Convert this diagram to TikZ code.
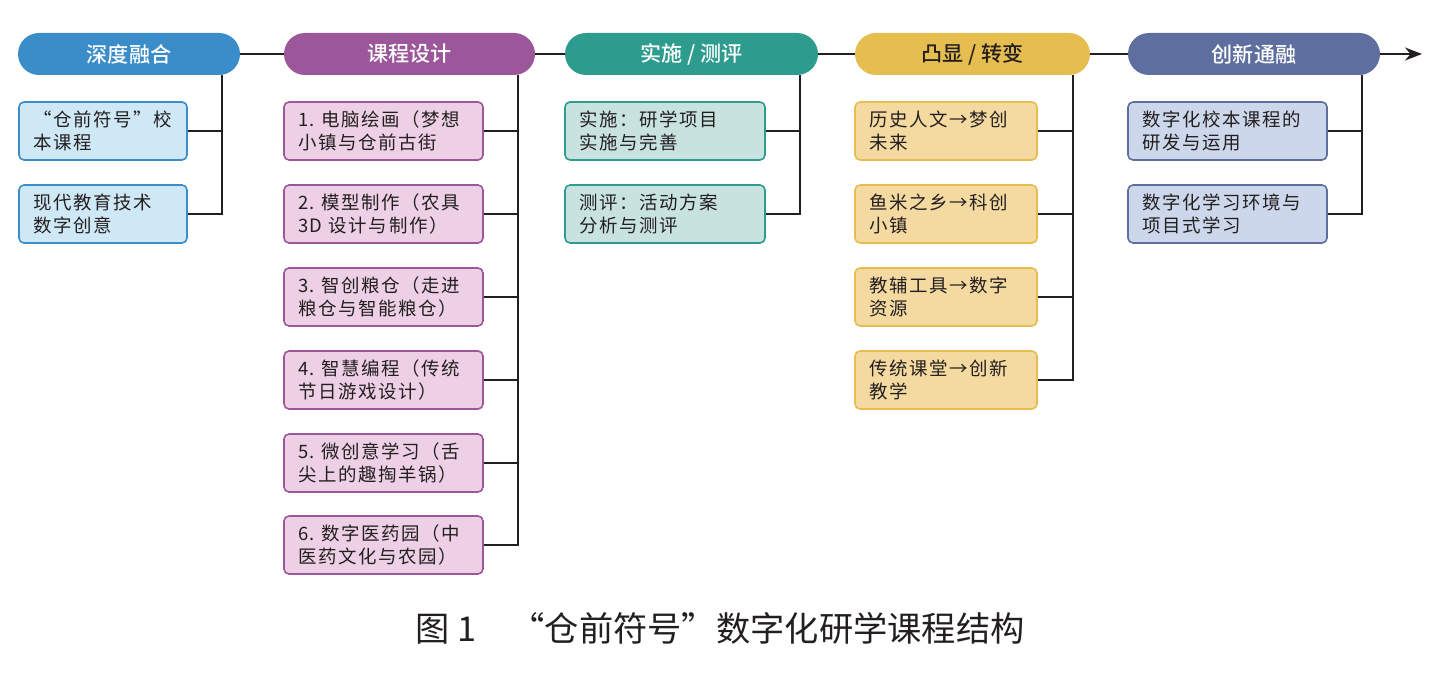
\documentclass[tikz,border=0pt]{standalone}
\usepackage{fontspec}
\setmainfont{Noto Sans CJK SC}
\newfontfamily\itemfont[LetterSpace=9]{Noto Sans CJK SC}
\newfontfamily\stagefont{Noto Sans CJK SC Medium}
\usetikzlibrary{arrows.meta, positioning}
\definecolor{stblue}{HTML}{3A8DC8}
\definecolor{stpurple}{HTML}{9B5799}
\definecolor{stteal}{HTML}{2D9B8E}
\definecolor{stgold}{HTML}{E6BD4F}
\definecolor{stslate}{HTML}{5D6E9F}
\definecolor{fiblue}{HTML}{CFE8F6}
\definecolor{fipurple}{HTML}{EDD0E5}
\definecolor{fiteal}{HTML}{C8E3DF}
\definecolor{figold}{HTML}{F4D9A0}
\definecolor{fislate}{HTML}{CCD7EB}
\definecolor{inkgray}{HTML}{231F20}

\begin{document}
\begin{tikzpicture}[
  every node/.style={font=\itemfont\fontsize{10.5}{13}\selectfont, text=inkgray},
  stagebox/.style={rectangle, rounded corners=0.42cm, fill=#1, minimum height=0.84cm, inner sep=0pt, text=white, font=\stagefont\fontsize{12}{14}\selectfont},
  itembox/.style 2 args={rectangle, rounded corners=0.1cm, draw=#1, fill=#2, line width=0.9pt, minimum height=1.16cm, inner xsep=0.28cm, align=left},
  link/.style={inkgray, line width=1.1pt},
]
\useasboundingbox (0,0) rectangle (28.98,-13.6);

% Stages
\node[stagebox=stblue, minimum width=4.44cm] (h1) at (2.58, -1.08) {深度融合};
\node[stagebox=stpurple, minimum width=5.02cm] (h2) at (8.19, -1.08) {课程设计};
\node[stagebox=stteal, minimum width=5.06cm] (h3) at (13.83, -1.08) {实施 / 测评};
\node[stagebox=stgold, minimum width=4.70cm, text=inkgray] (h4) at (19.45, -1.08) {凸显 / 转变};
\node[stagebox=stslate, minimum width=5.04cm] (h5) at (25.08, -1.08) {创新通融};
\coordinate (arrowend) at (28.44, -1.08);

\draw[link] (h1) -- (h2);
\draw[link] (h2) -- (h3);
\draw[link] (h3) -- (h4);
\draw[link] (h4) -- (h5);
\draw[link, -{Stealth[length=3.4mm, width=2.6mm]}] (h5) -- (arrowend);

% Column 1
\node[itembox={stblue}{fiblue}, text width=2.80cm] (b11) at (2.06, -2.62) {“仓前符号”校\\本课程};
\node[itembox={stblue}{fiblue}, text width=2.80cm] (b12) at (2.06, -4.28) {现代教育技术\\数字创意};
\coordinate (t1) at (4.44, -1.50);
\draw[link] (b11.east) -- (b11.east -| t1);
\draw[link] (b12.east) -| (t1);

% Column 2
\node[itembox={stpurple}{fipurple}, text width=3.42cm] (b21) at (7.67, -2.62) {1.~电脑绘画（梦想\\小镇与仓前古街};
\node[itembox={stpurple}{fipurple}, text width=3.42cm] (b22) at (7.67, -4.28) {2.~模型制作（农具\\3D~设计与制作）};
\node[itembox={stpurple}{fipurple}, text width=3.42cm] (b23) at (7.67, -5.94) {3.~智创粮仓（走进\\粮仓与智能粮仓）};
\node[itembox={stpurple}{fipurple}, text width=3.42cm] (b24) at (7.67, -7.60) {4.~智慧编程（传统\\节日游戏设计）};
\node[itembox={stpurple}{fipurple}, text width=3.42cm] (b25) at (7.67, -9.26) {5.~微创意学习（舌\\尖上的趣掏羊锅）};
\node[itembox={stpurple}{fipurple}, text width=3.42cm] (b26) at (7.67, -10.90) {6.~数字医药园（中\\医药文化与农园）};
\coordinate (t2) at (10.36, -1.50);
\draw[link] (b21.east) -- (b21.east -| t2);
\draw[link] (b22.east) -- (b22.east -| t2);
\draw[link] (b23.east) -- (b23.east -| t2);
\draw[link] (b24.east) -- (b24.east -| t2);
\draw[link] (b25.east) -- (b25.east -| t2);
\draw[link] (b26.east) -| (t2);

% Column 3
\node[itembox={stteal}{fiteal}, text width=3.44cm] (b31) at (13.30, -2.62) {实施：研学项目\\实施与完善};
\node[itembox={stteal}{fiteal}, text width=3.44cm] (b32) at (13.30, -4.28) {测评：活动方案\\分析与测评};
\coordinate (t3) at (16.00, -1.50);
\draw[link] (b31.east) -- (b31.east -| t3);
\draw[link] (b32.east) -| (t3);

% Column 4
\node[itembox={stgold}{figold}, text width=3.08cm] (b41) at (18.92, -2.62) {历史人文→梦创\\未来};
\node[itembox={stgold}{figold}, text width=3.08cm] (b42) at (18.92, -4.28) {鱼米之乡→科创\\小镇};
\node[itembox={stgold}{figold}, text width=3.08cm] (b43) at (18.92, -5.94) {教辅工具→数字\\资源};
\node[itembox={stgold}{figold}, text width=3.08cm] (b44) at (18.92, -7.60) {传统课堂→创新\\教学};
\coordinate (t4) at (21.46, -1.50);
\draw[link] (b41.east) -- (b41.east -| t4);
\draw[link] (b42.east) -- (b42.east -| t4);
\draw[link] (b43.east) -- (b43.east -| t4);
\draw[link] (b44.east) -| (t4);

% Column 5
\node[itembox={stslate}{fislate}, text width=3.42cm] (b51) at (24.55, -2.62) {数字化校本课程的\\研发与运用};
\node[itembox={stslate}{fislate}, text width=3.42cm] (b52) at (24.55, -4.28) {数字化学习环境与\\项目式学习};
\coordinate (t5) at (27.24, -1.50);
\draw[link] (b51.east) -- (b51.east -| t5);
\draw[link] (b52.east) -| (t5);

% Caption
\node[font=\rmfamily\fontsize{19.5}{23}\selectfont] (cap) at (14.40, -12.56) {图 1\quad“仓前符号”数字化研学课程结构};

\end{tikzpicture}
\end{document}
